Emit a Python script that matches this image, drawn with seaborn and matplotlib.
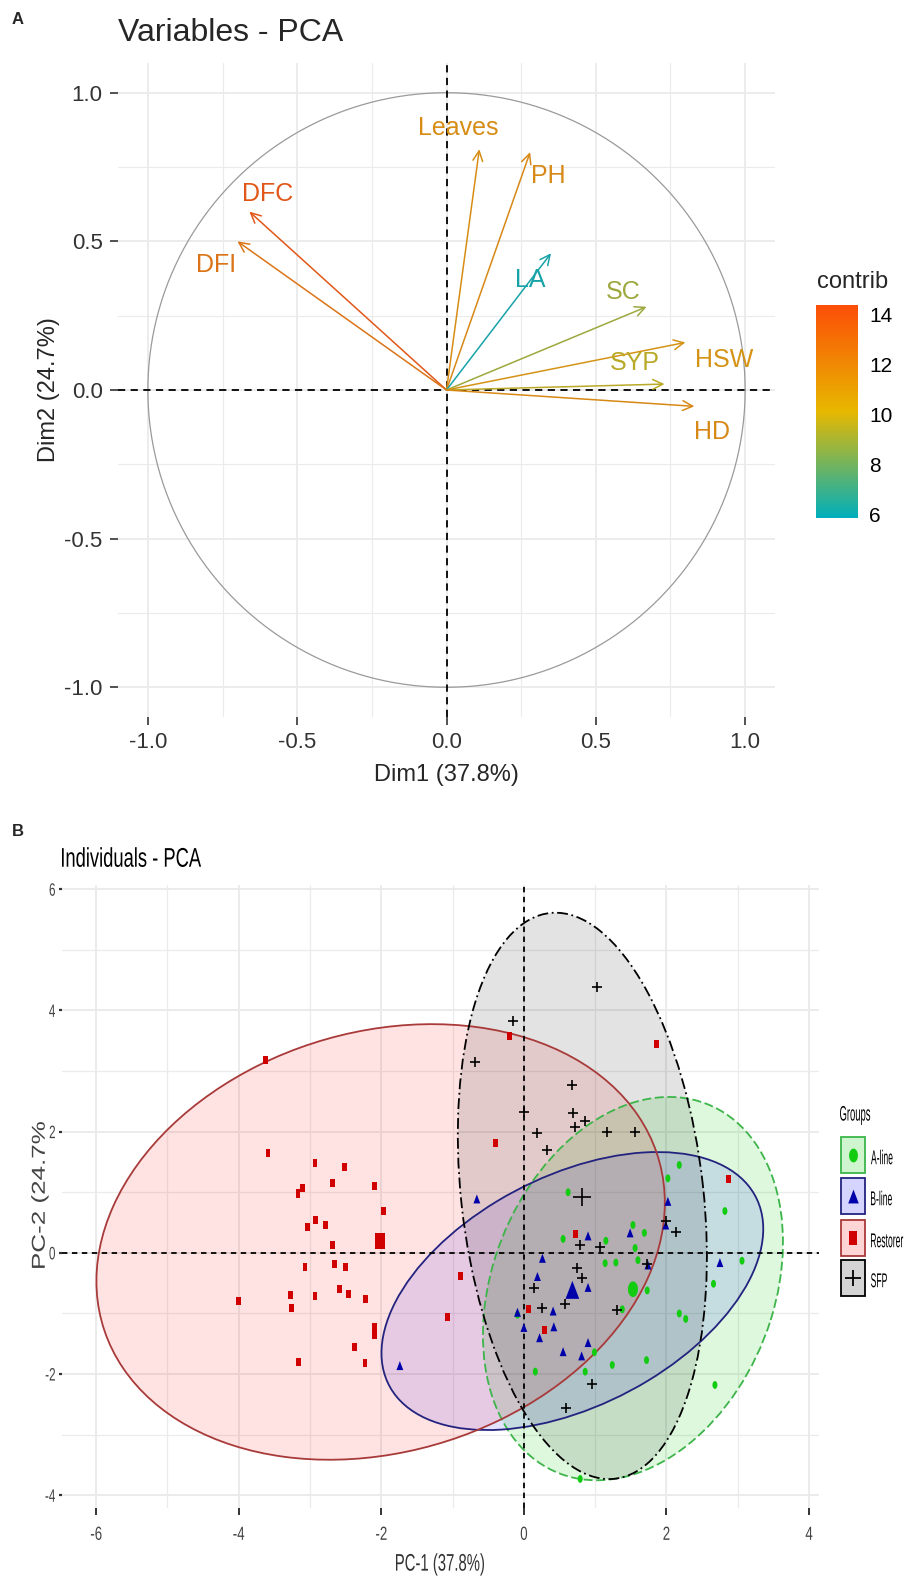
import numpy as np
import matplotlib
matplotlib.use("Agg")
import matplotlib.pyplot as plt
import seaborn as sns
from matplotlib.colors import LinearSegmentedColormap, Normalize, to_rgba
from matplotlib.cm import ScalarMappable
from matplotlib.patches import Ellipse, Rectangle, PathPatch
from matplotlib.lines import Line2D
from matplotlib.textpath import TextPath
from matplotlib.font_manager import FontProperties
from matplotlib.transforms import Affine2D, IdentityTransform

#---- Panel A data: variable loadings ----#
var_names = ["Leaves", "PH", "DFC", "DFI", "LA", "SC", "HSW", "SYP", "HD"]
dim1 = [0.11, 0.28, -0.66, -0.70, 0.35, 0.67, 0.80, 0.73, 0.83]
dim2 = [0.81, 0.80, 0.60, 0.50, 0.46, 0.28, 0.16, 0.02, -0.055]
contrib = [11.6, 11.8, 14.2, 12.8, 6.0, 9.0, 11.3, 9.6, 11.8]
label_x = [0.04, 0.34, -0.60, -0.77, 0.28, 0.59, 0.93, 0.63, 0.89]
label_y = [0.88, 0.72, 0.66, 0.42, 0.37, 0.33, 0.10, 0.09, -0.14]

#---- Panel B data: individuals ----#
groups = ["A-line", "B-line", "Restorer", "SFP"]

aline_x = [2.18, 2.02, 0.62, 2.82, 1.53, 1.69, 0.55, 1.15, 1.56, 1.14, 1.29, 1.60, 3.06,
           2.66, 1.73, 2.18, 2.27, 1.38, -0.09, 0.99, 1.24, 1.72, 0.16, 0.86, 2.68, 0.79]
aline_y = [1.45, 1.23, 1.00, 0.69, 0.46, 0.33, 0.23, 0.20, 0.08, -0.17, -0.16, -0.12, -0.13,
           -0.51, -0.62, -1.00, -1.09, -0.93, -1.02, -1.64, -1.85, -1.77, -1.96, -1.96, -2.18, -3.73]

bline_x = [-0.66, 0.90, 1.49, 2.02, 1.99, 0.26, 1.74, 2.75, 0.19, 0.90, 0.41, -0.09, 0.00,
           0.42, 0.22, 0.90, 0.55, 0.81, -1.74]
bline_y = [0.89, 0.28, 0.33, 0.85, 0.46, -0.09, -0.20, -0.16, -0.39, -0.57, -0.96, -0.98, -1.23,
           -1.22, -1.40, -1.48, -1.63, -1.70, -1.86]

rest_x = [-3.63, -3.59, -2.93, -2.52, -2.68, -2.10, -3.10, -3.17, -1.97, -2.92, -2.78, -3.04,
          -2.69, -3.07, -2.66, -2.50, -2.59, -2.46, -3.27, -2.93, -2.22, -4.00, -3.26, -2.10,
          -2.10, -2.38, -3.16, -2.23, -1.07, -0.89, -0.40, -0.20, 1.86, 2.87, 0.72, 0.07, 0.29]
rest_y = [3.18, 1.65, 1.48, 1.42, 1.16, 1.11, 1.07, 0.98, 0.69, 0.54, 0.46, 0.42,
          0.13, -0.24, -0.19, -0.24, -0.60, -0.68, -0.69, -0.71, -0.76, -0.80, -0.91, -1.22,
          -1.35, -1.55, -1.80, -1.82, -1.06, -0.38, 1.81, 3.58, 3.45, 1.22, 0.31, -0.93, -1.27]

sfp_x = [1.02, -0.15, -0.69, 0.67, 0.00, 0.69, 0.86, 0.72, 0.19, 1.17, 1.56, 0.32, 0.79,
         1.07, 2.14, 2.00, 1.72, 0.75, 0.82, 0.14, 0.57, 0.25, 1.30, 0.95, 0.59]
sfp_y = [4.39, 3.82, 3.15, 2.77, 2.33, 2.31, 2.17, 2.08, 1.98, 1.99, 1.99, 1.69, 0.13,
         0.09, 0.35, 0.52, -0.18, -0.25, -0.41, -0.58, -0.85, -0.91, -0.94, -2.17, -2.56]

# group mean points
mean_x = [1.53, 0.68, -2.02, 0.82]
mean_y = [-0.60, -0.61, 0.20, 0.93]

# confidence ellipses (centre, semi-axes, rotation in degrees)
ell_cx = [1.53, 0.68, -2.01, 0.82]
ell_cy = [-0.59, -0.63, 0.18, 0.94]
ell_a = [3.23, 3.02, 4.17, 4.69]
ell_b = [2.00, 1.82, 3.38, 1.70]
ell_angle = [75.0, 35.4, 30.0, 95.3]

#---- Styling ----#
sns.set_theme(style="white")
plt.rcParams["font.family"] = ["Liberation Sans", "DejaVu Sans"]
plt.rcParams["axes.unicode_minus"] = False

W, H = 924, 1577
fig = plt.figure(figsize=(W / 100, H / 100), dpi=100)

def box(l, t, r, b):
    return [l / W, 1 - b / H, (r - l) / W, (b - t) / H]

def narrow_text(x, y, s, size, sx=0.7, sy=1.0, ha="left", rot=0, color="black"):
    # squeezed text, x/y in pixels from the top-left corner, vertically centred on caps
    tp = TextPath((0, 0), s, prop=FontProperties(family="Liberation Sans"), size=size)
    bb = tp.get_extents()
    x0 = {"left": bb.x0, "center": (bb.x0 + bb.x1) / 2, "right": bb.x1}[ha]
    tr = (Affine2D().translate(-x0, -0.36 * size).scale(sx, sy)
          .rotate_deg(rot).translate(x, H - y))
    fig.add_artist(PathPatch(tp, facecolor=color, edgecolor="none", lw=0, transform=tr))

grid_col = "#EBEBEB"
tick_col = "#333333"

#================ Panel A ================#
ax1 = fig.add_axes(box(118, 63, 775, 717))
ax1.set_xlim(-1.1, 1.1)
ax1.set_ylim(-1.1, 1.1)
for s in ax1.spines.values():
    s.set_visible(False)
ax1.set_xticks([-1, -0.5, 0, 0.5, 1])
ax1.set_yticks([-1, -0.5, 0, 0.5, 1])
ax1.set_xticks([-0.75, -0.25, 0.25, 0.75], minor=True)
ax1.set_yticks([-0.75, -0.25, 0.25, 0.75], minor=True)
ax1.grid(which="major", color=grid_col, lw=1.3)
ax1.grid(which="minor", color=grid_col, lw=0.8)
ax1.set_axisbelow(True)
ax1.tick_params(which="major", length=6, width=1.2, color=tick_col, labelsize=16,
                labelcolor=tick_col, pad=5, bottom=True, left=True)
ax1.tick_params(which="minor", length=0)

t = np.linspace(0, 2 * np.pi, 400)
ax1.plot(np.cos(t), np.sin(t), color="#9A9A9A", lw=0.9)
ax1.axhline(0, color="black", ls=(0, (4, 3)), lw=1.3)
ax1.axvline(0, color="black", ls=(0, (4, 3)), lw=1.3)

cmap = LinearSegmentedColormap.from_list("contrib", ["#00AFBB", "#E7B800", "#FC4E07"])
norm = Normalize(5.88, 14.4)
grey = np.array([0.42, 0.42, 0.42])
for name, x, y, c, lx, ly in zip(var_names, dim1, dim2, contrib, label_x, label_y):
    col = tuple(0.82 * np.array(cmap(norm(c))[:3]) + 0.18 * grey)
    ax1.annotate("", xy=(x, y), xytext=(0, 0),
                 arrowprops=dict(arrowstyle="->,head_length=0.45,head_width=0.22",
                                 color=col, lw=1.1, shrinkA=0, shrinkB=0, mutation_scale=16))
    ax1.text(lx, ly, name, color=col, fontsize=18, ha="center", va="center")

ax1.set_xlabel("Dim1 (37.8%)", fontsize=17, labelpad=8)
ax1.set_ylabel("Dim2 (24.7%)", fontsize=17, labelpad=3)

cax = fig.add_axes(box(816, 305, 858, 518))
cb = fig.colorbar(ScalarMappable(norm=norm, cmap=cmap), cax=cax, ticks=[6, 8, 10, 12, 14])
cb.outline.set_visible(False)
cax.tick_params(axis="y", direction="in", color="white", length=7, width=1.5,
                left=True, right=True, labelsize=15, labelcolor="black", pad=8)
fig.text(817 / W, 1 - 282 / H, "contrib", fontsize=17, va="center", ha="left")

fig.text(118 / W, 1 - 33 / H, "Variables - PCA", fontsize=23, va="center", ha="left")
fig.text(12 / W, 1 - 19 / H, "A", fontsize=12, fontweight="bold", va="center", ha="left")

#================ Panel B ================#
ax2 = fig.add_axes(box(62, 885, 819, 1508))
ax2.set_xlim(-6.48, 4.14)
ax2.set_ylim(-4.21, 6.07)
for s in ax2.spines.values():
    s.set_visible(False)
xt = [-6, -4, -2, 0, 2, 4]
yt = [-4, -2, 0, 2, 4, 6]
ax2.set_xticks(xt)
ax2.set_yticks(yt)
ax2.set_xticks([-5, -3, -1, 1, 3], minor=True)
ax2.set_yticks([-3, -1, 1, 3, 5], minor=True)
ax2.grid(which="major", color=grid_col, lw=1.4)
ax2.grid(which="minor", color=grid_col, lw=0.9)
ax2.set_axisbelow(True)
ax2.tick_params(which="major", color=tick_col, bottom=True, left=True,
                labelbottom=False, labelleft=False)
ax2.tick_params(axis="x", which="major", length=5, width=1.4)
ax2.tick_params(axis="y", which="major", length=2, width=1.6)
ax2.tick_params(which="minor", length=0)

fills = ["#00CC00", "#0000FF", "#FF0000", "#000000"]
fill_alpha = [0.13, 0.11, 0.11, 0.11]
edges = ["#3DB54A", "#23237F", "#A83A3A", "#000000"]
styles = [(0, (5, 2)), "-", "-", (0, (6, 2, 1, 2))]
for i in range(4):
    ax2.add_patch(Ellipse((ell_cx[i], ell_cy[i]), 2 * ell_a[i], 2 * ell_b[i],
                          angle=ell_angle[i], facecolor=fills[i], alpha=fill_alpha[i],
                          edgecolor="none", zorder=1))
    ax2.add_patch(Ellipse((ell_cx[i], ell_cy[i]), 2 * ell_a[i], 2 * ell_b[i],
                          angle=ell_angle[i], facecolor="none", edgecolor=edges[i],
                          lw=1.3, ls=styles[i], zorder=2))

ax2.axhline(0, color="black", ls=(0, (3, 2.5)), lw=1.3, zorder=3)
ax2.axvline(0, color="black", ls=(0, (3, 2.5)), lw=1.3, zorder=3)

circ = [(0.32 * np.cos(a), 0.5 * np.sin(a)) for a in np.linspace(0, 2 * np.pi, 24)]
tri = [(-0.38, -0.5), (0.38, -0.5), (0.0, 0.5), (-0.38, -0.5)]
rect = [(-0.3, -0.5), (0.3, -0.5), (0.3, 0.5), (-0.3, 0.5), (-0.3, -0.5)]
markers = [circ, tri, rect, "+"]
pt_cols = ["#11CC11", "#0000AA", "#D00000", "#000000"]
pt_size = [32, 42, 34, 60]
gx = [aline_x, bline_x, rest_x, sfp_x]
gy = [aline_y, bline_y, rest_y, sfp_y]
for i in range(4):
    if markers[i] == "+":
        sns.scatterplot(x=gx[i], y=gy[i], marker="+", color=pt_cols[i], s=pt_size[i],
                        linewidth=1.2, ax=ax2, legend=False, zorder=4)
        sns.scatterplot(x=[mean_x[i]], y=[mean_y[i]], marker="+", color=pt_cols[i],
                        s=pt_size[i] * 3, linewidth=1.2, ax=ax2, legend=False, zorder=5)
    else:
        sns.scatterplot(x=gx[i], y=gy[i], marker=markers[i], color=pt_cols[i], s=pt_size[i],
                        edgecolor="none", linewidth=0, ax=ax2, legend=False, zorder=4)
        sns.scatterplot(x=[mean_x[i]], y=[mean_y[i]], marker=markers[i], color=pt_cols[i],
                        s=pt_size[i] * 4, edgecolor="none", linewidth=0, ax=ax2,
                        legend=False, zorder=5)

# narrow tick labels, placed through the axes transform
for v in xt:
    px, py = ax2.transData.transform((v, -4.21))
    narrow_text(px, 1533, str(v), 19, sx=0.7, ha="center", color="#444444")
for v in yt:
    px, py = ax2.transData.transform((-6.48, v))
    narrow_text(px - 7, H - py, str(v), 18, sx=0.65, ha="right", color="#444444")

narrow_text(440, 1562, "PC-1 (37.8%)", 24, sx=0.62, ha="center", color="#333333")
narrow_text(38, 1195, "PC-2 (24.7%", 26, sx=1.0, sy=0.72, ha="center", rot=90,
            color="#444444")
narrow_text(62, 857, "Individuals - PCA", 27, sx=0.68, ha="left")
fig.text(12 / W, 1 - 832 / H, "B", fontsize=12, fontweight="bold", va="center", ha="left")

# legend
narrow_text(840, 1113, "Groups", 21, sx=0.45, ha="left")
key_top = [1137, 1178, 1220, 1260]
for i in range(4):
    fig.add_artist(Rectangle((841, H - key_top[i] - 36), 24, 36, transform=IdentityTransform(),
                             facecolor=to_rgba(fills[i], fill_alpha[i] + 0.06),
                             edgecolor=edges[i], lw=1.3))
    if markers[i] == "+":
        mk = Line2D([853], [H - key_top[i] - 18], transform=IdentityTransform(),
                    ls="none", marker="+", color=pt_cols[i], markersize=11, mew=1.3)
    else:
        mk = Line2D([853], [H - key_top[i] - 18], transform=IdentityTransform(),
                    ls="none", marker=markers[i], color=pt_cols[i], markersize=10, mew=0)
    fig.add_artist(mk)
    narrow_text(871, key_top[i] + 20, groups[i], 20, sx=0.43, ha="left")

fig.savefig("out.png", dpi=100)
